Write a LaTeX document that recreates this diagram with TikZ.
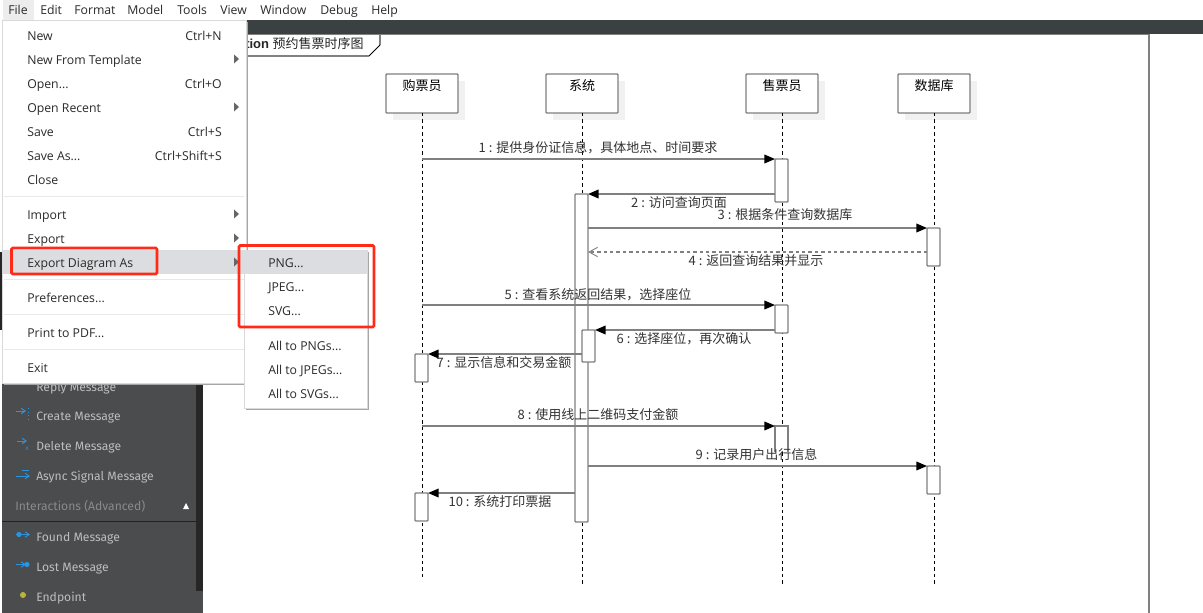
\documentclass[tikz,border=0pt]{standalone}
\usepackage{fontspec}
\usetikzlibrary{arrows.meta}
\setmainfont{Open Sans}
\newfontfamily\cjk{Noto Sans CJK SC}
\newfontfamily\sidefont{Fira Sans}
\newfontfamily\labfont{Liberation Sans}
\newcommand\threedots{.\kern0pt.\kern0pt.}
\definecolor{umlgrey}{HTML}{808080}
\definecolor{barcol}{HTML}{3B4043}
\definecolor{panelcol}{HTML}{4B4C4E}
\definecolor{sbcol}{HTML}{262626}
\definecolor{sidetxt}{HTML}{BDBDBD}
\definecolor{hilite}{HTML}{DCDDE0}
\definecolor{sepcol}{HTML}{E8E9EC}
\definecolor{redbox}{HTML}{FF2A17}
\definecolor{menutxt}{HTML}{2A2A2A}
\definecolor{shadecol}{HTML}{F1F1F1}
\definecolor{iconblue}{HTML}{2A94DE}
\tikzset{
  x=0.75pt,y=-0.75pt,
  actor/.style={draw=umlgrey,line width=1.1pt,fill=white,rounded corners=0.6pt,anchor=north west,inner sep=0pt,outer sep=0pt,minimum width=54pt,minimum height=29.25pt,text depth=0pt},
  actorname/.style={inner sep=0pt,font=\cjk\fontsize{9.75pt}{11pt}\selectfont,text=black},
  lifeline/.style={draw=black,line width=0.75pt,dash pattern=on 2.6pt off 2.2pt},
  actbox/.style={draw=umlgrey,line width=1.1pt,fill=white,rounded corners=0.6pt,anchor=north west,inner sep=0pt,outer sep=0pt,minimum width=9.75pt},
  msg/.style={draw=umlgrey,line width=1.1pt,-{Triangle[length=8pt,width=6.5pt,color=black,fill=black]}},
  retmsg/.style={draw=umlgrey,line width=1.1pt,dash pattern=on 2.6pt off 2.2pt,-{Straight Barb[length=6.5pt,width=7pt,color=umlgrey,line width=0.7pt]}},
  msglabel/.style={inner sep=0pt,font=\cjk\fontsize{9.75pt}{11pt}\selectfont,text=black!80},
  menuitem/.style={anchor=base west,inner sep=0pt,font=\fontsize{9.2pt}{11pt}\selectfont,text=menutxt},
  shortcut/.style={anchor=base east,inner sep=0pt,font=\fontsize{9.2pt}{11pt}\selectfont,text=menutxt},
  sideitem/.style={anchor=base west,inner sep=0pt,font=\sidefont\fontsize{9.1pt}{11pt}\selectfont,text=sidetxt},
  redframe/.style={draw=redbox,line width=2pt,rounded corners=1pt},
  icon/.style={draw=iconblue,line width=0.7pt},
}
\begin{document}
\begin{tikzpicture}
\useasboundingbox (0,0) rectangle (1203,613);
\fill[white] (0,0) rectangle (1203,613);
% app chrome
\fill[barcol] (240,20) rectangle (1203,34);
\draw[umlgrey,line width=1.1pt] (240,34.5) -- (1149,34.5) -- (1149,613);
\fill[panelcol] (2,380) rectangle (203,613);
\fill[sbcol] (196,380) rectangle (203,591);
\fill[sbcol] (0,252) rectangle (2,330);
% frame tab
\draw[umlgrey,line width=1.1pt,fill=white] (240,34.5) -- (380,34.5) -- (380,45);
\draw[black,line width=0.6pt] (380,45) -- (369,56);
\draw[umlgrey,line width=1.1pt] (369,56) -- (240,56);
\node[anchor=base west,inner sep=0pt,font=\labfont\fontsize{9.75pt}{11pt}\selectfont,text=black!85] (frametitle) at (245,49) {\textbf{tion} {\cjk 预约售票时序图}};
% actor shadows
\foreach \xx in {393,553,753,905} \fill[shadecol] (\xx,81) rectangle +(72,39);
% lifelines
\node[actor] (buyer) at (386,74) {};
\node[actor] (sys) at (546,74) {};
\node[actor] (seller) at (746,74) {};
\node[actor] (db) at (898,74) {};
\node[actorname] at (422,86) {购票员};
\node[actorname] at (582,86) {系统};
\node[actorname] at (782,86) {售票员};
\node[actorname] at (934,86) {数据库};
\coordinate (buyerend) at (422,580);
\coordinate (sysend) at (582,585);
\coordinate (sellerend) at (782,585);
\coordinate (dbend) at (934,585);
\draw[lifeline] (buyer.south) -- (buyerend);
\draw[lifeline] (sys.south) -- (sysend);
\draw[lifeline] (seller.south) -- (sellerend);
\draw[lifeline] (db.south) -- (dbend);
% activations
\node[actbox,minimum height={43*0.75pt}] (a1) at (775,159) {};
\node[actbox,minimum height={328*0.75pt}] (a2) at (575,194) {};
\node[actbox,minimum height={38*0.75pt}] (a3) at (927,228) {};
\node[actbox,minimum height={28*0.75pt}] (a4) at (775,305) {};
\node[actbox,minimum height={32*0.75pt}] (a5) at (582,330) {};
\node[actbox,minimum height={28*0.75pt}] (a6) at (415,354) {};
\fill[white] (775,426) rectangle (788,452);
\draw[umlgrey,line width=1.1pt] (775,452) -- (775,426) coordinate (a7nw) -- (788,426) -- (788,452);
\node[actbox,minimum height={28*0.75pt}] (a8) at (927,466) {};
\node[actbox,minimum height={28*0.75pt}] (a9) at (415,493) {};
% free ends of messages
\coordinate (s1) at (422,159);
\coordinate (s2) at (775,194);
\coordinate (s3) at (588,228);
\coordinate (s4) at (927,252);
\coordinate (t4) at (588,252);
\coordinate (s5) at (422,305);
\coordinate (s6) at (775,330);
\coordinate (s7) at (582,354);
\coordinate (s8) at (422,426);
\coordinate (s9) at (588,466);
\coordinate (s10) at (575,493);
\draw[msg] (s1) -- (a1.north west);
\draw[msg] (s2) -- (a2.north east);
\draw[msg] (s3) -- (a3.north west);
\draw[retmsg] (s4) -- (t4);
\draw[msg] (s5) -- (a4.north west);
\draw[msg] (s6) -- (a5.north east);
\draw[msg] (s7) -- (a6.north east);
\draw[msg] (s8) -- (a7nw);
\draw[msg] (s9) -- (a8.north west);
\draw[msg] (s10) -- (a9.north east);
\node[msglabel] (l1) at (598,148) {1 : 提供身份证信息，具体地点、时间要求};
\node[msglabel] (l2) at (679,203) {2 : 访问查询页面};
\node[msglabel] (l3) at (785,215) {3 : 根据条件查询数据库};
\node[msglabel] (l4) at (756,261) {4 : 返回查询结果并显示};
\node[msglabel] (l5) at (598,295) {5 : 查看系统返回结果，选择座位};
\node[msglabel] (l6) at (684,339) {6 : 选择座位，再次确认};
\node[msglabel] (l7) at (504,363) {7 : 显示信息和交易金额};
\node[msglabel] (l8) at (598,415) {8 : 使用线上二维码支付金额};
\node[msglabel] (l9) at (756.5,455) {9 : 记录用户出行信息};
\node[msglabel] (l10) at (500,502) {10 : 系统打印票据};
% side panel items
\node[sideitem] (reply) at (36,391) {Reply Message};
\node[sideitem] (create) at (36,420.5) {Create Message};
\node[sideitem] (delete) at (36,450.5) {Delete Message};
\node[sideitem] (async) at (36,480.5) {Async Signal Message};
\node[sideitem,text=sidetxt!55!panelcol] (inter) at (15,510.5) {Interactions (Advanced)};
\node[sideitem] (found) at (36,541.5) {Found Message};
\node[sideitem] (lost) at (36,571.5) {Lost Message};
\node[sideitem] (endp) at (36,601.5) {Endpoint};
\fill[white] (183,509) -- (189,509) -- (186,503) -- cycle;
\draw[black!55!panelcol,line width=0.6pt] (2,521.5) -- (196,521.5);
\draw[icon,-{Straight Barb[length=3pt,width=4pt]}] (16,411) -- (26,411);
\draw[icon,dotted] (28,408) -- (28,420);
\draw[icon,-{Straight Barb[length=3pt,width=4pt]}] (17,441) -- (27,441);
\node[inner sep=0pt,text=iconblue,font=\fontsize{5pt}{5pt}\selectfont] (xmark) at (27,449) {x};
\draw[icon,-{Straight Barb[length=3pt,width=4pt]}] (16,476) -- (30,476);
\draw[icon] (22,470) -- (29,470);
\draw[icon,-{Straight Barb[length=3pt,width=4pt]}] (16,534.5) -- (30,534.5);
\fill[iconblue] (19,534.5) circle[radius=2.6];
\draw[icon,-{Straight Barb[length=3pt,width=4pt]}] (16,564.5) -- (26,564.5);
\fill[iconblue] (27,564.5) circle[radius=2.6];
\fill[yellow!70!black] (23,595) circle[radius=3];
% menu bar
\fill[black!7] (3,0) rectangle (34,20);
\foreach \nn/\xx/\lab in {mbfile/8/File,mbedit/40/Edit,mbformat/74/Format,mbmodel/127/Model,mbtools/177/Tools,mbview/220/View,mbwindow/260/Window,mbdebug/320/Debug,mbhelp/371/Help}
  \node[menuitem] (\nn) at (\xx,15) {\lab};
% file menu
\fill[black!35] (4,22) rectangle (248,385);
\draw[black!15,fill=white,line width=0.5pt] (2,20) rectangle (246,383);
\fill[hilite] (3,250) rectangle (245.5,274);
\foreach \yy in {196.5,279.5,314.5,349.5} \draw[sepcol,line width=0.75pt] (4,\yy) -- (244,\yy);
\foreach \nn/\yy/\lab in {mnew/40.5/New,mtemplate/64.5/New From Template,mopen/88.5/Open\threedots,mrecent/112.5/Open Recent,msave/136.5/Save,msaveas/160.5/Save As\threedots,mclose/184.5/Close,mimport/219.5/Import,mexport/243.5/Export,mdiagram/267.5/Export Diagram As,mprefs/302.5/Preferences\threedots,mprint/337.5/Print to PDF\threedots,mexit/372.5/Exit}
  \node[menuitem] (\nn) at (27,\yy) {\lab};
\foreach \nn/\yy/\lab in {sknew/40.5/Ctrl+N,skopen/88.5/Ctrl+O,sksave/136.5/Ctrl+S,sksaveas/160.5/Ctrl+Shift+S}
  \node[shortcut] (\nn) at (222,\yy) {\lab};
\foreach \yy in {59,107,214,238,262} \fill[black!60] (234,\yy-4.5) -- (239,\yy) -- (234,\yy+4.5) -- cycle;
% submenu
\fill[black!35] (246,252) rectangle (369,410);
\draw[black!15,fill=white,line width=0.5pt] (244,250) rectangle (367,408);
\fill[hilite] (240,250) rectangle (366.5,274);
\foreach \nn/\yy/\lab in {spng/267.5/PNG\threedots,sjpeg/291.5/JPEG\threedots,ssvg/315.5/SVG\threedots,sapng/350.5/All to PNGs\threedots,sajpeg/374.5/All to JPEGs\threedots,sasvg/398.5/All to SVGs\threedots}
  \node[menuitem] (\nn) at (268,\yy) {\lab};
% red frames
\draw[redframe] (11.5,248) rectangle (157,274);
\draw[redframe] (239,245.5) rectangle (374,327);
\end{tikzpicture}
\end{document}
